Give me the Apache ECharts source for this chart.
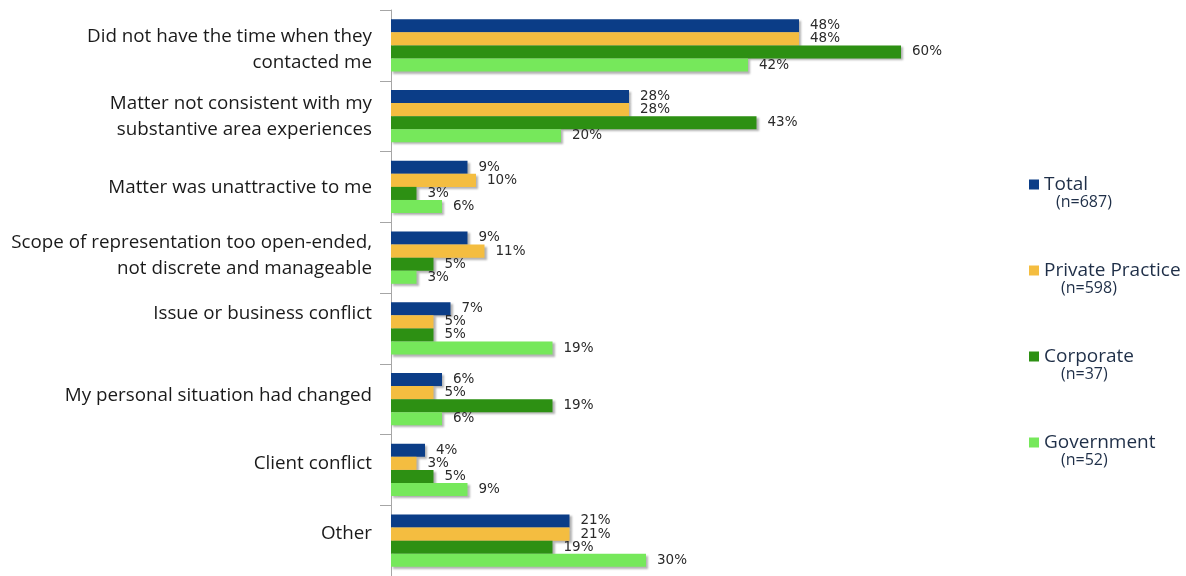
<!DOCTYPE html>
<html><head><meta charset="utf-8">
<script src="https://cdn.jsdelivr.net/npm/echarts@6/dist/echarts.min.js"></script>
<style>html,body{margin:0;padding:0;background:#fff}#c{width:1186px;height:576px}</style>
</head><body><div id="c"></div>
<script>
const categories = [
  'Did not have the time when they\ncontacted me',
  'Matter not consistent with my\nsubstantive area experiences',
  'Matter was unattractive to me',
  'Scope of representation too open-ended,\nnot discrete and manageable',
  'Issue or business conflict',
  'My personal situation had changed',
  'Client conflict',
  'Other'
];
const seriesNames = ['Total', 'Private Practice', 'Corporate', 'Government'];
const sampleSizes = ['(n=687)', '(n=598)', '(n=37)', '(n=52)'];
const total           = [48, 28, 9, 9, 7, 6, 4, 21];
const privatePractice = [48, 28, 10, 11, 5, 5, 3, 21];
const corporate       = [60, 43, 3, 5, 5, 19, 5, 19];
const government      = [42, 20, 6, 3, 19, 6, 9, 30];

// styling / layout (not data)
const colors = ['#0b3d87', '#f4bd40', '#2d9013', '#76e85b'];
const labelShift = [4, 1, 1, -2, -15, -3, -6, -7];
const legendTops = [175, 261, 347, 433];
const catFont = '"Open Sans", Lato, sans-serif';
const valFont = '"DejaVu Sans", Verdana, sans-serif';

const values = [total, privatePractice, corporate, government];

const rich = {};
labelShift.forEach((s, i) => {
  rich['r' + i] = {
    fontSize: 18.8, lineHeight: 26, color: '#1a1a1a', fontFamily: catFont, align: 'right',
    padding: s >= 0 ? [2 * s, 0, 0, 0] : [0, 0, -2 * s, 0]
  };
});

const chart = echarts.init(document.getElementById('c'), null, {renderer: 'canvas'});
const option = {
  animation: false,
  backgroundColor: '#ffffff',
  grid: {left: 391, top: 10, width: 595, bottom: 0, containLabel: false},
  xAxis: {
    type: 'value', min: 0, max: 70,
    show: false, splitLine: {show: false}
  },
  yAxis: {
    type: 'category',
    inverse: true,
    data: categories,
    axisLine: {show: true, lineStyle: {color: '#a6a6a6', width: 1}},
    axisTick: {show: true, length: 11, lineStyle: {color: '#a6a6a6'}},
    axisLabel: {
      margin: 19, fontSize: 18.8, lineHeight: 26, color: '#1a1a1a',
      fontFamily: catFont, align: 'right',
      formatter: (v, idx) => {
        const lines = v.split('\n');
        if (lines.length > 1) return lines.map(l => '{r' + idx + '|' + l + '}').join('\n');
        return '{r' + idx + '|' + v + '}';
      },
      rich: rich
    }
  },
  legend: seriesNames.map((n, i) => ({
    data: [n],
    orient: 'vertical',
    left: 1029, top: legendTops[i],
    padding: 0,
    icon: 'rect', itemWidth: 10, itemHeight: 10,
    selectedMode: false,
    formatter: name => '{a|' + name + '}\n{b|' + sampleSizes[i] + '}',
    textStyle: {
      padding: [15, 0, 0, 0],
      rich: {
        a: {fontSize: 19, lineHeight: 20, color: '#1f2f48', fontFamily: catFont},
        b: {fontSize: 16, lineHeight: 15, color: '#1f2f48', fontFamily: catFont, padding: [0, 0, 0, i === 0 ? 12 : 17]}
      }
    }
  })),
  series: seriesNames.map((n, i) => ({
    name: n,
    type: 'bar',
    data: values[i],
    barGap: '0%',
    barCategoryGap: '26%',
    itemStyle: {
      color: colors[i],
      shadowColor: 'rgba(0,0,0,0.3)', shadowBlur: 2, shadowOffsetX: 2, shadowOffsetY: 2
    },
    label: {
      show: true, position: 'right', distance: 11,
      formatter: p => p.value + '%',
      fontSize: 13.5, color: '#2a2a2a', fontFamily: valFont
    }
  }))
};
chart.setOption(option);
</script>
</body></html>
